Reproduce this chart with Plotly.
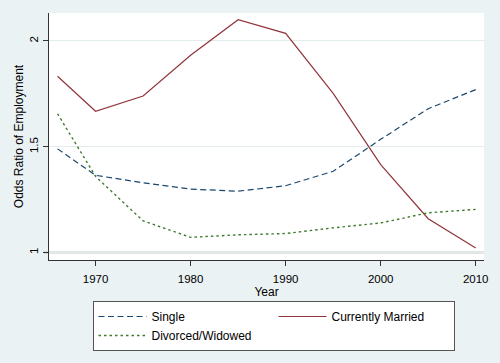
import plotly.graph_objects as go

years = [1966, 1970, 1975, 1980, 1985, 1990, 1995, 2000, 2005, 2010]
single = [1.49, 1.365, 1.33, 1.30, 1.29, 1.316, 1.384, 1.535, 1.68, 1.77]
married = [1.833, 1.668, 1.74, 1.932, 2.10, 2.036, 1.752, 1.416, 1.16, 1.022]
divorced = [1.656, 1.36, 1.15, 1.072, 1.084, 1.09, 1.117, 1.14, 1.188, 1.204]

x_ticks = [1970, 1980, 1990, 2000, 2010]
y_ticks = [1, 1.5, 2]
y_tick_text = ["1", "1.5", "2"]

NAVY = "#1a476f"
MAROON = "#90353b"
GREEN = "#3f7a2c"
BG = "#eaf2f3"
FONT = "Liberation Sans, Arial, sans-serif"

fig = go.Figure()
fig.add_trace(go.Scatter(x=years, y=single, mode="lines", name="Single",
                         line=dict(color=NAVY, width=1.2, dash="6px,3.5px")))
fig.add_trace(go.Scatter(x=years, y=married, mode="lines", name="Currently Married",
                         line=dict(color=MAROON, width=1.2)))
fig.add_trace(go.Scatter(x=years, y=divorced, mode="lines", name="Divorced/Widowed",
                         line=dict(color=GREEN, width=1.4, dash="2.5px,3px")))

# darker reference line at y = 1
fig.add_shape(type="line", xref="paper", x0=-0.012, x1=1, yref="y", y0=1, y1=1,
              line=dict(color="#8a8a8a", width=1.5), layer="below")

fig.update_layout(
    width=500, height=363,
    margin=dict(l=49, r=13, t=13, b=100),
    paper_bgcolor=BG, plot_bgcolor="white",
    font=dict(family=FONT, size=12, color="black"),
    showlegend=True,
    legend=dict(
        orientation="h", x=0.1, y=-0.166, xanchor="left", yanchor="top",
        bgcolor="white", bordercolor="#555555", borderwidth=1,
        font=dict(family=FONT, size=12, color="black"),
        itemwidth=48, entrywidth=117, tracegroupgap=0,
    ),
    xaxis=dict(
        range=[1965.1, 2010.87], tickvals=x_ticks,
        showgrid=False, zeroline=False,
        showline=True, linecolor="#333333", linewidth=1,
        ticks="outside", ticklen=5, tickcolor="#333333", tickwidth=1,
        tickfont=dict(size=11.5), ticklabelstandoff=3,
        title=dict(text="Year", font=dict(size=12), standoff=3),
    ),
    yaxis=dict(
        range=[0.965, 2.132], tickvals=y_ticks, ticktext=y_tick_text,
        tickangle=-90,
        showgrid=True, gridcolor="#e3eced", gridwidth=1,
        zeroline=False,
        showline=True, linecolor="#333333", linewidth=1,
        ticks="outside", ticklen=5, tickcolor="#333333", tickwidth=1,
        tickfont=dict(size=11.5),
        title=dict(text="Odds Ratio of Employment", font=dict(size=12), standoff=2),
    ),
)

fig.write_html(
    "out.html",
    config={"displayModeBar": False},
    post_script="document.body.style.margin='0';document.body.style.overflow='hidden';",
)
